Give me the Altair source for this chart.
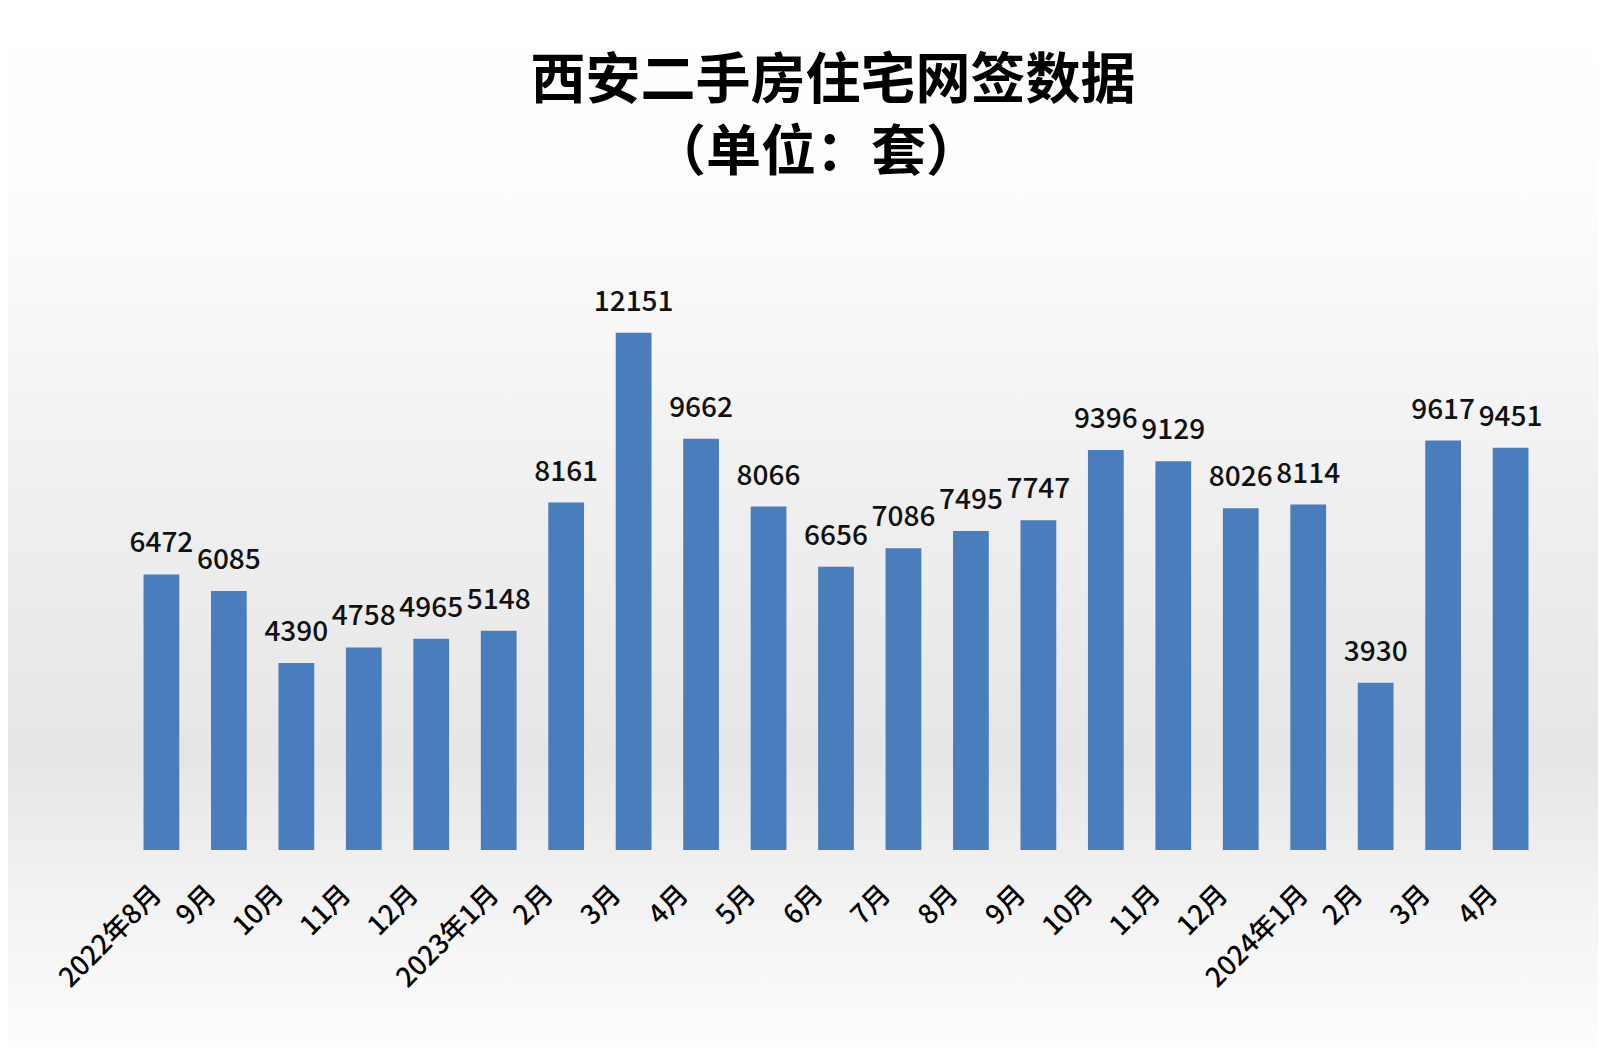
import json
import altair as alt
import pandas as pd

TITLE = "西安二手房住宅网签数据"
SUBTITLE = "（单位：套）"
months = ["2022年8月", "9月", "10月", "11月", "12月", "2023年1月", "2月", "3月", "4月",
          "5月", "6月", "7月", "8月", "9月", "10月", "11月", "12月", "2024年1月",
          "2月", "3月", "4月"]
values = [6472, 6085, 4390, 4758, 4965, 5148, 8161, 12151, 9662, 8066, 6656, 7086,
          7495, 7747, 9396, 9129, 8026, 8114, 3930, 9617, 9451]

df = pd.DataFrame({"idx": list(range(len(months))), "month": months, "value": values})

W, H = 1420, 596
PL, PT, PR, PB = 118, 246, 52, 200
FONT = "Noto Sans CJK SC"

label_expr = json.dumps(months, ensure_ascii=False) + "[datum.value]"
long_test = "length(" + json.dumps(months, ensure_ascii=False) + "[datum.value]) > 4"

xenc = alt.X("idx:O", title=None,
             scale=alt.Scale(paddingInner=0.47, paddingOuter=0.26),
             axis=alt.Axis(labelExpr=label_expr, labelAngle=-45, labelAlign="right",
                           labelBaseline="middle", labelFontSize=27, labelFont=FONT,
                           labelFontWeight=500,
                           labelOffset=alt.condition(long_test, alt.value(-4), alt.value(-17)),
                           labelColor="#000000", labelPadding=40, ticks=False,
                           domain=False, grid=False, zindex=2))
yenc = alt.Y("value:Q", title=None, scale=alt.Scale(domain=[0, 14000]), axis=None)

bg = alt.Chart(pd.DataFrame({"a": [0]})).mark_rect(
    color=alt.LinearGradient(
        gradient="linear", x1=0, y1=0, x2=0, y2=1,
        stops=[alt.GradientStop(offset=0, color="#ffffff"),
               alt.GradientStop(offset=0.2, color="#fcfcfc"),
               alt.GradientStop(offset=0.45, color="#f0f0f0"),
               alt.GradientStop(offset=0.72, color="#e6e6e6"),
               alt.GradientStop(offset=0.85, color="#f2f2f2"),
               alt.GradientStop(offset=1, color="#fdfdfd")])
).encode(x=alt.value(-PL), x2=alt.value(W + PR), y=alt.value(-PT), y2=alt.value(H + PB))

title1 = alt.Chart(pd.DataFrame({"a": [0]})).mark_text(
    text=TITLE, font=FONT, fontSize=55, fontWeight="bold", color="#000000",
    align="center", baseline="middle"
).encode(x=alt.value(707), y=alt.value(-173))

title2 = alt.Chart(pd.DataFrame({"a": [0]})).mark_text(
    text=SUBTITLE, font=FONT, fontSize=55, fontWeight="bold", color="#000000",
    align="center", baseline="middle"
).encode(x=alt.value(690), y=alt.value(-101))

bars = alt.Chart(df).mark_bar(color="#4a7dbb").encode(x=xenc, y=yenc)

labels = alt.Chart(df).mark_text(
    fontSize=28, font=FONT, fontWeight=500, color="#111111", baseline="alphabetic", dy=-22
).encode(x=alt.X("idx:O"), y=alt.Y("value:Q"), text=alt.Text("value:Q", format="d"))

chart = alt.layer(bg, bars, labels, title1, title2).properties(
    width=W, height=H,
    autosize=alt.AutoSizeParams(type="none"),
    padding={"left": PL, "top": PT, "right": PR, "bottom": PB},
).configure_view(stroke=None).configure(background="#ffffff")

chart.save("out.html", embed_options={"renderer": "svg", "actions": False})
